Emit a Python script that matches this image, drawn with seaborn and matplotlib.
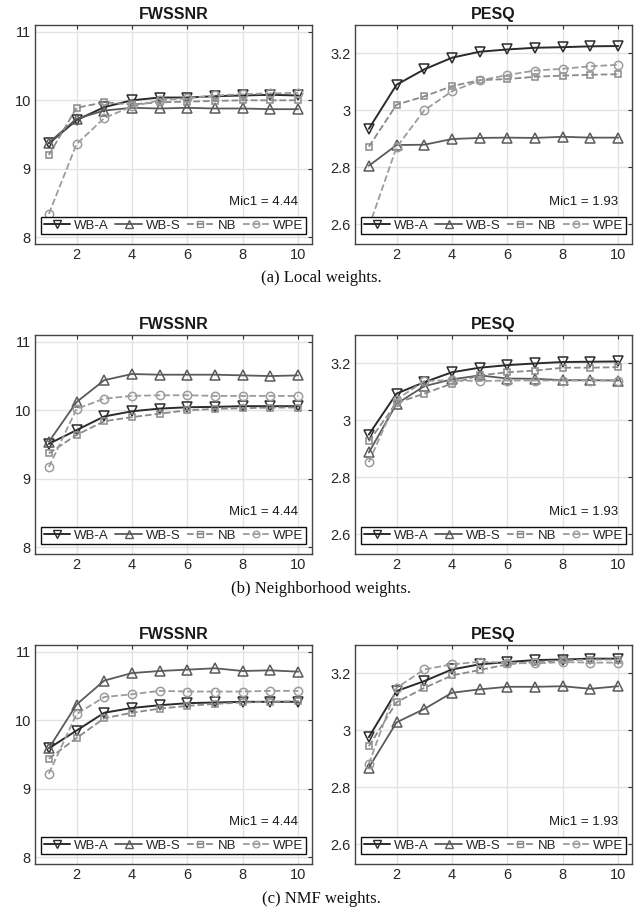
import numpy as np
import pandas as pd
import seaborn as sns
import matplotlib.pyplot as plt
from matplotlib.lines import Line2D

sns.set_theme(style="whitegrid")
plt.rcParams['font.family'] = ['Liberation Sans', 'DejaVu Sans']

# iterations on the x axis
x = [1, 2, 3, 4, 5, 6, 7, 8, 9, 10]
methods = ['WB-A', 'WB-S', 'NB', 'WPE']

# (a) local weights
a_fw_wba = [9.37, 9.71, 9.90, 10.00, 10.04, 10.04, 10.06, 10.07, 10.08, 10.07]
a_fw_wbs = [9.38, 9.73, 9.85, 9.89, 9.88, 9.89, 9.88, 9.88, 9.87, 9.87]
a_fw_nb = [9.20, 9.89, 9.97, 9.94, 9.97, 9.98, 9.99, 10.00, 10.00, 10.00]
a_fw_wpe = [8.34, 9.36, 9.74, 9.91, 10.00, 10.03, 10.07, 10.09, 10.10, 10.11]
a_pesq_wba = [2.935, 3.090, 3.144, 3.185, 3.206, 3.214, 3.220, 3.222, 3.225, 3.226]
a_pesq_wbs = [2.805, 2.878, 2.879, 2.899, 2.903, 2.904, 2.903, 2.907, 2.904, 2.904]
a_pesq_nb = [2.872, 3.020, 3.049, 3.085, 3.106, 3.110, 3.118, 3.122, 3.125, 3.127]
a_pesq_wpe = [2.590, 2.870, 3.000, 3.067, 3.105, 3.124, 3.140, 3.146, 3.155, 3.160]

# (b) neighborhood weights
b_fw_wba = [9.51, 9.71, 9.91, 9.985, 10.025, 10.044, 10.05, 10.06, 10.06, 10.06]
b_fw_wbs = [9.54, 10.12, 10.44, 10.53, 10.52, 10.52, 10.52, 10.51, 10.50, 10.51]
b_fw_nb = [9.37, 9.64, 9.84, 9.90, 9.95, 10.00, 10.02, 10.03, 10.04, 10.04]
b_fw_wpe = [9.17, 10.02, 10.17, 10.21, 10.22, 10.22, 10.21, 10.21, 10.21, 10.21]
b_pesq_wba = [2.950, 3.094, 3.134, 3.169, 3.185, 3.194, 3.200, 3.205, 3.206, 3.207]
b_pesq_wbs = [2.887, 3.058, 3.120, 3.144, 3.158, 3.147, 3.146, 3.141, 3.141, 3.140]
b_pesq_nb = [2.926, 3.061, 3.094, 3.129, 3.158, 3.169, 3.175, 3.185, 3.185, 3.187]
b_pesq_wpe = [2.853, 3.073, 3.138, 3.141, 3.138, 3.140, 3.140, 3.140, 3.140, 3.140]

# (c) NMF weights
c_fw_wba = [9.59, 9.85, 10.11, 10.18, 10.22, 10.25, 10.26, 10.27, 10.27, 10.27]
c_fw_wbs = [9.59, 10.23, 10.58, 10.69, 10.72, 10.74, 10.76, 10.72, 10.73, 10.71]
c_fw_nb = [9.44, 9.74, 10.03, 10.11, 10.17, 10.21, 10.24, 10.26, 10.27, 10.28]
c_fw_wpe = [9.22, 10.09, 10.34, 10.38, 10.43, 10.42, 10.42, 10.42, 10.43, 10.43]
c_pesq_wba = [2.976, 3.138, 3.173, 3.214, 3.232, 3.240, 3.247, 3.249, 3.252, 3.252]
c_pesq_wbs = [2.869, 3.028, 3.075, 3.132, 3.144, 3.153, 3.153, 3.155, 3.146, 3.155]
c_pesq_nb = [2.944, 3.099, 3.149, 3.193, 3.212, 3.232, 3.240, 3.246, 3.249, 3.249]
c_pesq_wpe = [2.882, 3.149, 3.214, 3.232, 3.241, 3.238, 3.235, 3.240, 3.238, 3.238]

captions = ['(a) Local weights.', '(b) Neighborhood weights.', '(c) NMF weights.']
mic_fw = 'Mic1 = 4.44'
mic_pesq = 'Mic1 = 1.93'

panels = [
    [[a_fw_wba, a_fw_wbs, a_fw_nb, a_fw_wpe], [a_pesq_wba, a_pesq_wbs, a_pesq_nb, a_pesq_wpe]],
    [[b_fw_wba, b_fw_wbs, b_fw_nb, b_fw_wpe], [b_pesq_wba, b_pesq_wbs, b_pesq_nb, b_pesq_wpe]],
    [[c_fw_wba, c_fw_wbs, c_fw_nb, c_fw_wpe], [c_pesq_wba, c_pesq_wbs, c_pesq_nb, c_pesq_wpe]],
]

styles = {
    'WB-A': dict(color='#2b2b2b', marker='v', linestyle='-', markersize=6.5, linewidth=1.4),
    'WB-S': dict(color='#5a5a5a', marker='^', linestyle='-', markersize=6.5, linewidth=1.3),
    'NB': dict(color='#8a8a8a', marker='s', linestyle='--', markersize=5, linewidth=1.3),
    'WPE': dict(color='#9c9c9c', marker='o', linestyle='--', markersize=6, linewidth=1.3),
}

W, H = 643, 918
fig = plt.figure(figsize=(W / 100, H / 100), dpi=100)

col_left = [35, 355]
row_top = [25, 335, 645]
ax_w, ax_h = 277, 219
caption_y = [278, 589, 899]


def style_axes(ax, ylim, yticks, yticklabels):
    ax.set_xlim(0.5, 10.5)
    ax.set_ylim(*ylim)
    ax.set_xticks([2, 4, 6, 8, 10])
    ax.set_yticks(yticks)
    ax.set_yticklabels(yticklabels)
    ax.set_xlabel('')
    ax.set_ylabel('')
    ax.set_facecolor('white')
    ax.grid(True, color='#e3e3e3', linewidth=1.0)
    for s in ax.spines.values():
        s.set_visible(True)
        s.set_color('#444444')
        s.set_linewidth(1.0)
    ax.tick_params(direction='in', top=True, right=True, length=3,
                   width=0.8, color='#333333', labelcolor='#262626',
                   labelsize=10.5, pad=3)


for r, (fw_series, pesq_series) in enumerate(panels):
    for c, (series, title, mic) in enumerate([(fw_series, 'FWSSNR', mic_fw),
                                              (pesq_series, 'PESQ', mic_pesq)]):
        left = col_left[c]
        top = row_top[r]
        ax = fig.add_axes([left / W, 1 - (top + ax_h) / H, ax_w / W, ax_h / H])
        for name, vals in zip(methods, series):
            st = styles[name]
            sns.lineplot(x=x, y=vals, ax=ax, color=st['color'], marker=st['marker'],
                         linestyle=st['linestyle'], markersize=st['markersize'],
                         linewidth=st['linewidth'], markerfacecolor='none',
                         markeredgecolor=st['color'], markeredgewidth=1.1,
                         dashes=False if st['linestyle'] == '-' else (4, 3),
                         legend=False)
        if c == 0:
            style_axes(ax, (7.9, 11.1), [8, 9, 10, 11], ['8', '9', '10', '11'])
        else:
            style_axes(ax, (2.53, 3.30), [2.6, 2.8, 3.0, 3.2], ['2.6', '2.8', '3', '3.2'])
        ax.set_title(title, fontsize=11.5, fontweight='bold', color='#1a1a1a', pad=4)
        ax.text(0.95, 0.19, mic, transform=ax.transAxes, ha='right', va='center',
                fontsize=9.5, color='#1a1a1a')
        handles = [Line2D([], [], color=styles[m]['color'], marker=styles[m]['marker'],
                          linestyle=styles[m]['linestyle'], markersize=styles[m]['markersize'] * 0.8,
                          linewidth=styles[m]['linewidth'], markerfacecolor='none',
                          markeredgewidth=1.0) for m in methods]
        leg = ax.legend(handles, methods, ncol=4, loc='lower center',
                        bbox_to_anchor=(0.5, 0.045), fontsize=9.5, frameon=True,
                        fancybox=False, handlelength=2.0, handletextpad=0.3,
                        columnspacing=0.5, borderpad=0.2, borderaxespad=0.0)
        leg.get_frame().set_edgecolor('#111111')
        leg.get_frame().set_linewidth(1.0)
        leg.get_frame().set_alpha(1.0)

    fig.text(0.5, 1 - caption_y[r] / H, captions[r], ha='center', va='center',
             fontsize=12, family=['Liberation Serif', 'DejaVu Serif'], color='#111111')

fig.savefig('out.png', dpi=100)
